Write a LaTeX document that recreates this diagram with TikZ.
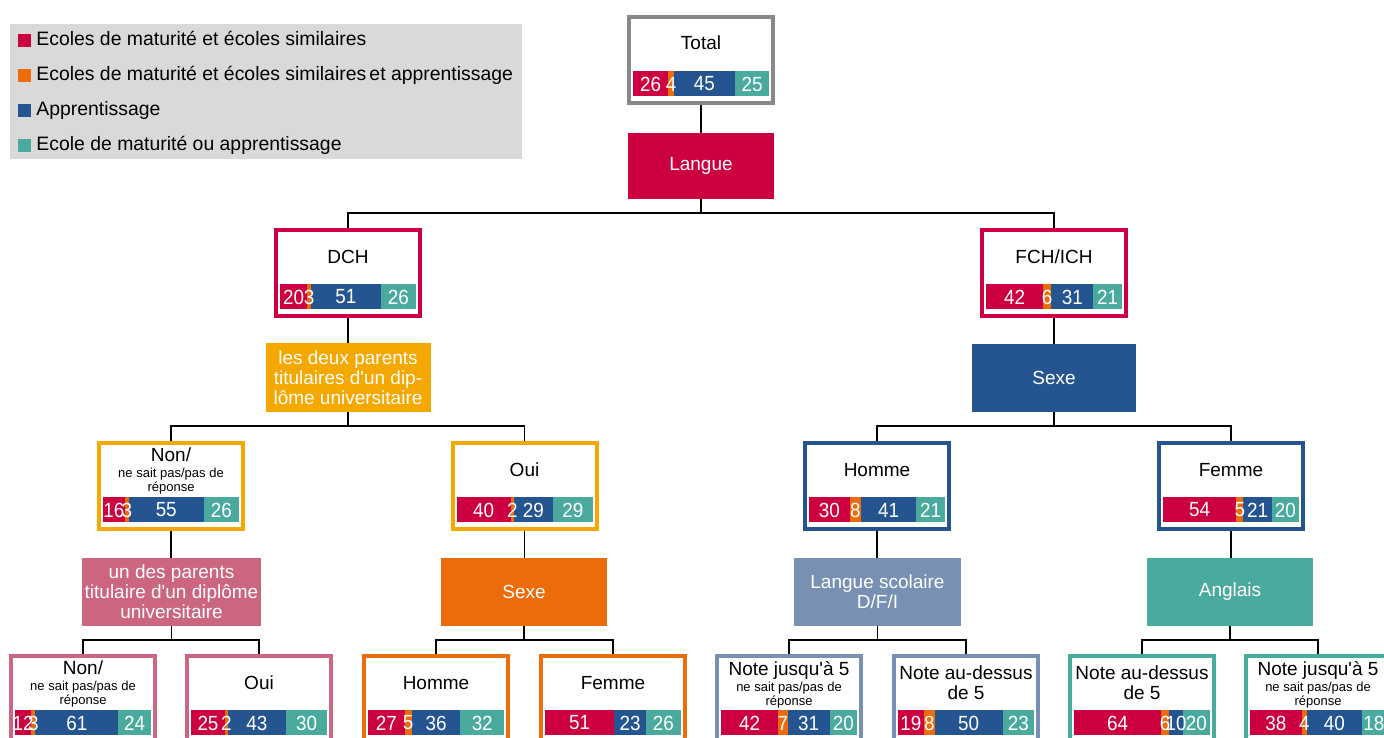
\documentclass[tikz,border=0pt]{standalone}
\usepackage{fontspec}
\setmainfont{Liberation Sans}
\newfontfamily\numfont[FakeStretch=0.92]{Liberation Sans}
\usetikzlibrary{positioning}
\usetikzlibrary{backgrounds}

\definecolor{cmat}{HTML}{CC0040}
\definecolor{cboth}{HTML}{EC6C0C}
\definecolor{capp}{HTML}{255591}
\definecolor{cor}{HTML}{4BAA9E}
\definecolor{cpar}{HTML}{F5A800}
\definecolor{cpink}{HTML}{CC6680}
\definecolor{cgblue}{HTML}{7890B4}
\definecolor{cgray}{HTML}{888888}
\definecolor{clegend}{HTML}{D9D9D9}

\newcommand{\mainsize}{\fontsize{19}{20}\selectfont}
\newcommand{\smallsize}{\fontsize{13}{14}\selectfont}
\newcommand{\ap}{\textquotesingle}

\tikzset{catbox/.style = {draw=#1, line width=4pt, fill=white,
                          minimum width=144pt, minimum height=86pt, inner sep=0pt},
         splitbox/.style = {fill=#1, text=white, font=\mainsize, align=center,
                            inner sep=0pt, minimum height=68pt},
         boxtitle/.style = {font=\mainsize, align=center, inner sep=0pt},
         subtitle/.style = {font=\smallsize, align=center, inner sep=0pt},
         num/.style = {text=white, font=\numfont\fontsize{20.5}{20}\selectfont, inner sep=0pt},
         key/.style = {minimum size=13pt, inner sep=0pt},
         keytext/.style = {font=\fontsize{19.4}{20}\selectfont, inner sep=0pt,
                           text height=13.5pt, text depth=3.5pt},
         link/.style = {line width=1.5pt}}

% bar of shares inside a box: node, then the four values
\newcommand{\statbar}[5]{%
  \begin{scope}[shift={(#1.north)}]
    \pgfmathsetmacro\xa{-68+1.36*#2}
    \pgfmathsetmacro\xb{\xa+1.36*#3}
    \pgfmathsetmacro\xc{\xb+1.36*#4}
    \fill[cmat] (-68,56) rectangle (\xa,81);
    \fill[cboth] (\xa,56) rectangle (\xb,81);
    \fill[capp] (\xb,56) rectangle (\xc,81);
    \fill[cor] (\xc,56) rectangle (68,81);
    \node[num] (#1-a) at ({(-68+\xa)/2},69) {#2};
    \ifnum#3>0 \node[num] (#1-b) at ({(\xa+\xb)/2},69) {#3};\fi
    \node[num] (#1-c) at ({(\xb+\xc)/2},69) {#4};
    \node[num] (#1-d) at ({(\xc+68)/2},69) {#5};
  \end{scope}}

\begin{document}
\begin{tikzpicture}[x=1pt, y=-1pt]
  \useasboundingbox (0,0) rectangle (1384,737);
  \clip (0,0) rectangle (1384,737);

  % legend
  \node[fill=clegend, minimum width=512pt, minimum height=135pt, inner sep=0pt,
        anchor=north west] (legend) at (10,24) {};
  \node[key, fill=cmat] (key1) at (24.5,40.5) {};
  \node[key, fill=cboth] (key2) at (24.5,75.5) {};
  \node[key, fill=capp] (key3) at (24.5,110) {};
  \node[key, fill=cor] (key4) at (24.5,145) {};
  \node[keytext, right=5pt of key1] (key1-t) {Ecoles de maturité et écoles similaires};
  \node[keytext, right=5pt of key2] (key2-t) {Ecoles de maturité et écoles similaires\,et apprentissage};
  \node[keytext, right=5pt of key3] (key3-t) {Apprentissage};
  \node[keytext, right=5pt of key4] (key4-t) {Ecole de maturité ou apprentissage};

  % boxes with bars
  \node[catbox=cgray] (total) at (701,60) {};
  \node[catbox=cmat] (dch) at (348,273) {};
  \node[catbox=cmat] (fch) at (1054,273) {};
  \node[catbox=cpar] (non1) at (171,486) {};
  \node[catbox=cpar] (oui1) at (524.5,486) {};
  \node[catbox=capp] (homme1) at (877,486) {};
  \node[catbox=capp] (femme1) at (1231,486) {};
  \node[catbox=cpink] (non2) at (83,699) {};
  \node[catbox=cpink] (oui2) at (259,699) {};
  \node[catbox=cboth] (homme2) at (436,699) {};
  \node[catbox=cboth] (femme2) at (613,699) {};
  \node[catbox=cgblue] (note1) at (789,699) {};
  \node[catbox=cgblue] (note2) at (966,699) {};
  \node[catbox=cor] (note3) at (1142,699) {};
  \node[catbox=cor] (note4) at (1318,699) {};

  % splitting variables
  \node[splitbox=cmat, minimum width=146pt, minimum height=66pt] (langue) at (701,166) {Langue};
  \node[splitbox=cpar, minimum width=165pt, minimum height=69pt] (deux) at (348,377.5)
    {les deux parents\\titulaires d\ap un dip-\\lôme universitaire};
  \node[splitbox=capp, minimum width=164pt] (sexe1) at (1054,378) {Sexe};
  \node[splitbox=cpink, minimum width=179pt] (unparent) at (171.5,592)
    {un des parents\\titulaire d\ap un diplôme\\universitaire};
  \node[splitbox=cboth, minimum width=166pt] (sexe2) at (524,592) {Sexe};
  \node[splitbox=cgblue, minimum width=167pt] (langsc) at (877.5,592) {Langue scolaire\\D/F/I};
  \node[splitbox=cor, minimum width=166pt] (anglais) at (1230,592) {Anglais};

  % titles
  \path (total.north) ++(0,28) node[boxtitle] (total-t) {Total};
  \path (dch.north) ++(0,29) node[boxtitle] (dch-t) {DCH};
  \path (fch.north) ++(0,29) node[boxtitle] (fch-t) {FCH/ICH};
  \path (non1.north) ++(0,14) node[boxtitle] (non1-t) {Non/};
  \path (non1.north) ++(0,40) node[subtitle] (non1-s) {ne sait pas/pas de\\réponse};
  \path (oui1.north) ++(0,29) node[boxtitle] (oui1-t) {Oui};
  \path (homme1.north) ++(0,29) node[boxtitle] (homme1-t) {Homme};
  \path (femme1.north) ++(0,29) node[boxtitle] (femme1-t) {Femme};
  \path (non2.north) ++(0,14) node[boxtitle] (non2-t) {Non/};
  \path (non2.north) ++(0,40) node[subtitle] (non2-s) {ne sait pas/pas de\\réponse};
  \path (oui2.north) ++(0,29) node[boxtitle] (oui2-t) {Oui};
  \path (homme2.north) ++(0,29) node[boxtitle] (homme2-t) {Homme};
  \path (femme2.north) ++(0,29) node[boxtitle] (femme2-t) {Femme};
  \path (note1.north) ++(0,16) node[boxtitle] (note1-t) {Note jusqu\ap à 5};
  \path (note1.north) ++(0,41) node[subtitle] (note1-s) {ne sait pas/pas de\\réponse};
  \path (note2.north) ++(0,29) node[boxtitle] (note2-t) {Note au-dessus\\de 5};
  \path (note3.north) ++(0,29) node[boxtitle] (note3-t) {Note au-dessus\\de 5};
  \path (note4.north) ++(0,16) node[boxtitle] (note4-t) {Note jusqu\ap à 5};
  \path (note4.north) ++(0,41) node[subtitle] (note4-s) {ne sait pas/pas de\\réponse};

  % shares
  \statbar{total}{26}{4}{45}{25}
  \statbar{dch}{20}{3}{51}{26}
  \statbar{fch}{42}{6}{31}{21}
  \statbar{non1}{16}{3}{55}{26}
  \statbar{oui1}{40}{2}{29}{29}
  \statbar{homme1}{30}{8}{41}{21}
  \statbar{femme1}{54}{5}{21}{20}
  \statbar{non2}{12}{3}{61}{24}
  \statbar{oui2}{25}{2}{43}{30}
  \statbar{homme2}{27}{5}{36}{32}
  \statbar{femme2}{51}{0}{23}{26}
  \statbar{note1}{42}{7}{31}{20}
  \statbar{note2}{19}{8}{50}{23}
  \statbar{note3}{64}{6}{10}{20}
  \statbar{note4}{38}{4}{40}{18}

  % tree
  \begin{scope}[on background layer]
    \draw[link] (total) -- (langue);
    \draw[link] (langue.south) -- ++(0,14) -| (dch.north);
    \draw[link] (langue.south) -- ++(0,14) -| (fch.north);
    \draw[link] (dch) -- (deux);
    \draw[link] (fch) -- (sexe1);
    \draw[link] (deux.south) -- ++(0,14) -| (non1.north);
    \draw[link] (deux.south) -- ++(0,14) -| (oui1.north);
    \draw[link] (sexe1.south) -- ++(0,14) -| (homme1.north);
    \draw[link] (sexe1.south) -- ++(0,14) -| (femme1.north);
    \draw[link] (non1.south) -- (non1.south |- unparent.north);
    \draw[link] (oui1.south) -- (oui1.south |- sexe2.north);
    \draw[link] (homme1.south) -- (homme1.south |- langsc.north);
    \draw[link] (femme1.south) -- (femme1.south |- anglais.north);
    \draw[link] (unparent.south) -- ++(0,14) -| (non2.north);
    \draw[link] (unparent.south) -- ++(0,14) -| (oui2.north);
    \draw[link] (sexe2.south) -- ++(0,14) -| (homme2.north);
    \draw[link] (sexe2.south) -- ++(0,14) -| (femme2.north);
    \draw[link] (langsc.south) -- ++(0,14) -| (note1.north);
    \draw[link] (langsc.south) -- ++(0,14) -| (note2.north);
    \draw[link] (anglais.south) -- ++(0,14) -| (note3.north);
    \draw[link] (anglais.south) -- ++(0,14) -| (note4.north);
  \end{scope}
\end{tikzpicture}
\end{document}
